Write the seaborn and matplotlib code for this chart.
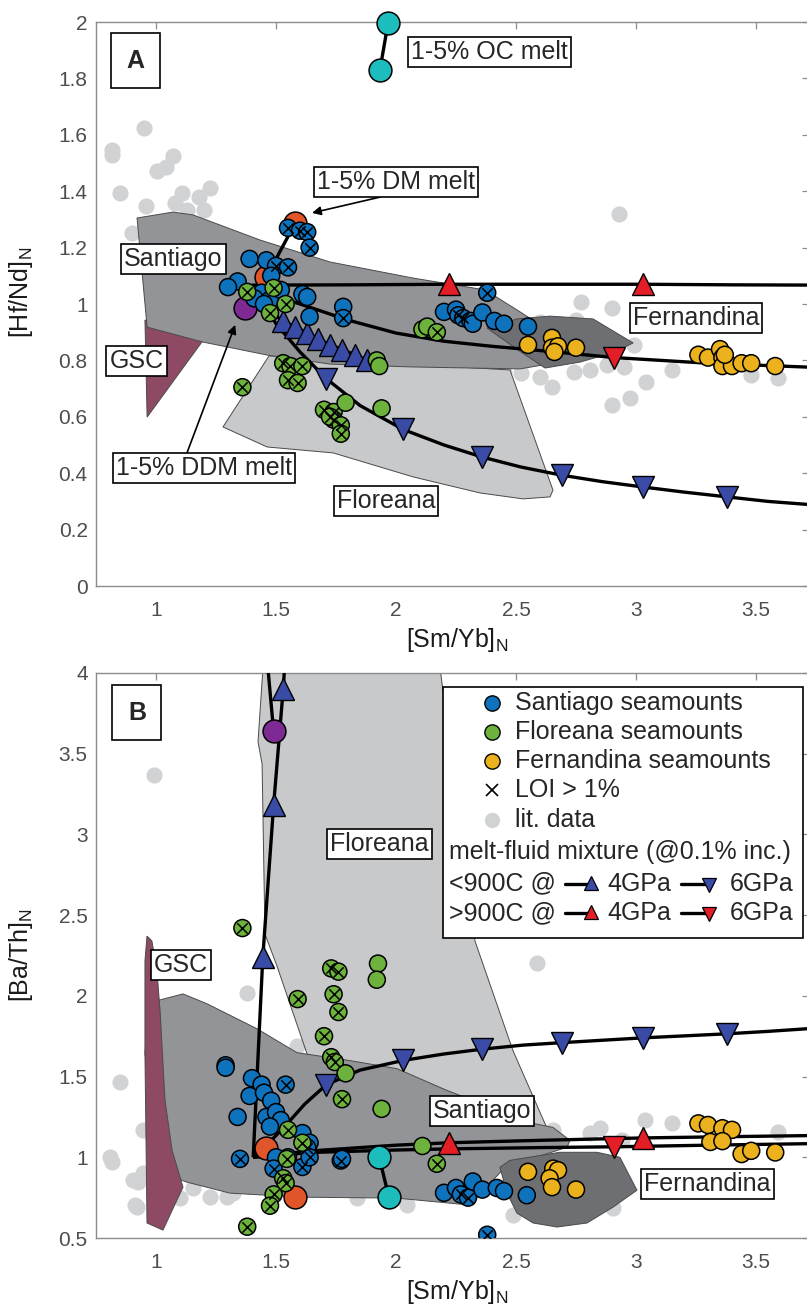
import numpy as np
import pandas as pd
import matplotlib
matplotlib.use("Agg")
import matplotlib.pyplot as plt
from matplotlib.patches import Polygon, Rectangle
from matplotlib.ticker import FuncFormatter, MultipleLocator
import seaborn as sns

sns.set_style("white")
plt.rcParams["font.family"] = ["Liberation Sans", "DejaVu Sans"]
plt.rcParams["mathtext.default"] = "regular"

# ---------------- colours ----------------
C_SANT = "#0f72bd"
C_FLOR = "#6cb23c"
C_FERN = "#ebb21e"
C_LIT = "#d1d2d4"
C_DM = "#e1552a"
C_OC = "#1dbdbd"
C_DDM = "#7e2a95"
C_BLUE = "#3a4ba6"
C_RED = "#e41e26"
C_POLY_SANT = "#939497"
C_POLY_FLOR = "#c8c9cb"
C_POLY_FERN = "#6e6f72"
C_POLY_GSC = "#8e4a65"

# ================= Panel A : [Hf/Nd]N vs [Sm/Yb]N =================
litA_x = [0.95, 0.817, 0.817, 1.07, 1.04, 1.004, 0.85, 0.96, 1.11, 1.08, 1.225, 1.18, 1.20, 1.13, 0.90,
          2.77, 2.90, 2.60, 2.75, 2.99, 2.52, 2.60, 2.74, 2.81, 2.88, 2.95, 2.65, 3.04, 3.15, 2.975,
          2.90, 3.48, 3.59, 2.93, 2.45, 2.35]
litA_y = [1.624, 1.546, 1.528, 1.525, 1.486, 1.472, 1.394, 1.348, 1.394, 1.358, 1.411, 1.379, 1.333, 1.333, 1.252,
          1.007, 0.986, 0.936, 0.943, 0.855, 0.755, 0.741, 0.759, 0.766, 0.784, 0.777, 0.706, 0.723, 0.766, 0.667,
          0.642, 0.748, 0.738, 1.32, 0.76, 0.77]

santA_x = [1.55, 1.60, 1.63, 1.64, 1.39, 1.46, 1.50, 1.55, 1.48, 1.34, 1.30, 1.44, 1.61, 1.63, 1.78, 1.78, 1.64,
           1.41, 1.475, 1.52, 1.45,
           2.20, 2.25, 2.26, 2.28, 2.31, 2.32, 2.36, 2.38, 2.41, 2.45, 2.55]
santA_y = [1.27, 1.26, 1.255, 1.20, 1.16, 1.155, 1.135, 1.13, 1.10, 1.08, 1.06, 1.04, 1.035, 1.025, 0.99, 0.95, 0.955,
           1.02, 1.015, 1.05, 1.00,
           0.972, 0.98, 0.96, 0.95, 0.94, 0.93, 0.97, 1.04, 0.94, 0.93, 0.92]
santA_loi = [1, 1, 1, 1, 0, 0, 1, 1, 0, 0, 0, 0, 0, 0, 0, 1, 0,
             0, 0, 0, 0,
             0, 0, 1, 1, 0, 0, 0, 1, 0, 0, 0]

florA_x = [1.38, 1.49, 1.54, 1.475, 1.53, 1.56, 1.61, 1.55, 1.59, 1.36, 1.70, 1.74, 1.79, 1.94, 1.74, 1.725,
           1.77, 1.77, 1.92, 1.93, 2.11, 2.13, 2.17]
florA_y = [1.043, 1.057, 1.00, 0.968, 0.79, 0.78, 0.78, 0.73, 0.72, 0.705, 0.625, 0.617, 0.65, 0.63, 0.59, 0.60,
           0.57, 0.54, 0.80, 0.78, 0.91, 0.92, 0.90]
florA_loi = [1, 1, 1, 1, 1, 1, 1, 1, 1, 1, 1, 1, 0, 0, 1, 1,
             1, 1, 0, 0, 0, 0, 1]

fernA_x = [2.55, 2.65, 2.65, 2.675, 2.66, 2.75, 3.26, 3.30, 3.35, 3.36, 3.36, 3.40, 3.44, 3.48, 3.58, 3.37]
fernA_y = [0.855, 0.88, 0.845, 0.85, 0.83, 0.845, 0.82, 0.81, 0.84, 0.81, 0.78, 0.78, 0.79, 0.79, 0.78, 0.82]

dmA_x, dmA_y = [1.46, 1.58], [1.096, 1.287]
ocA_x, ocA_y = [1.933, 1.967], [1.83, 1.997]
ddmA_x, ddmA_y = [1.37], [0.985]

# melt-fluid mixing curves (line) and 0.1% increment markers
red4A_x = [1.40, 1.80, 2.22, 2.60, 3.03, 3.40, 3.75]
red4A_y = [1.067, 1.068, 1.07, 1.07, 1.07, 1.068, 1.067]
red4A_mx, red4A_my = [2.22, 3.03], [1.07, 1.07]

red6A_x = [1.45, 1.60, 1.80, 2.00, 2.20, 2.40, 2.60, 2.91, 3.30, 3.75]
red6A_y = [1.04, 1.00, 0.943, 0.897, 0.868, 0.85, 0.835, 0.81, 0.79, 0.775]
red6A_mx, red6A_my = [2.91], [0.81]

blue4A_x = [1.45, 1.53, 1.58, 1.63, 1.675, 1.725, 1.775, 1.83, 1.88]
blue4A_y = [0.985, 0.94, 0.918, 0.897, 0.875, 0.856, 0.838, 0.82, 0.80]
blue4A_mx = [1.53, 1.58, 1.63, 1.675, 1.725, 1.775, 1.83, 1.88]
blue4A_my = [0.94, 0.918, 0.897, 0.875, 0.856, 0.838, 0.82, 0.80]

blue6A_x = [1.45, 1.50, 1.60, 1.71, 1.85, 2.03, 2.20, 2.36, 2.52, 2.69, 2.86, 3.03, 3.20, 3.38, 3.55, 3.75]
blue6A_y = [1.0, 0.93, 0.83, 0.735, 0.64, 0.555, 0.50, 0.457, 0.422, 0.393, 0.37, 0.351, 0.333, 0.316, 0.30, 0.287]
blue6A_mx = [1.71, 2.03, 2.36, 2.69, 3.03, 3.38]
blue6A_my = [0.735, 0.555, 0.457, 0.393, 0.351, 0.316]

# field outlines
polyA_sant = [(0.921, 1.305), (1.071, 1.326), (1.154, 1.316), (1.433, 1.227), (1.725, 1.149), (2.071, 1.092),
              (2.371, 1.050), (2.517, 0.972), (2.621, 0.915), (2.767, 0.830), (2.683, 0.794), (2.517, 0.770),
              (2.308, 0.773), (2.058, 0.777), (1.725, 0.787), (1.463, 0.819), (1.196, 0.865), (0.963, 0.918)]
polyA_fern = [(2.379, 0.915), (2.504, 0.947), (2.642, 0.957), (2.821, 0.947), (2.988, 0.862), (2.913, 0.830),
              (2.767, 0.794), (2.621, 0.773), (2.496, 0.844)]
polyA_flor = [(1.471, 0.816), (1.279, 0.564), (1.463, 0.493), (1.738, 0.472), (2.071, 0.387), (2.350, 0.330),
              (2.529, 0.309), (2.642, 0.316), (2.654, 0.340), (2.475, 0.766)]
polyA_gsc = [(0.954, 0.943), (1.2125, 0.890), (0.963, 0.599)]

# ================= Panel B : [Ba/Th]N vs [Sm/Yb]N =================
litB_x = [0.992, 2.5875, 1.379, 0.85, 0.946, 0.996, 0.808, 0.817, 0.9125, 0.946, 0.996, 0.925, 1.10, 1.154,
          1.225, 1.296, 1.321, 3.0375, 3.15, 2.85, 2.808, 2.942, 3.592, 2.654, 2.904, 2.4875, 1.5875, 2.046,
          1.8375, 0.904, 0.92]
litB_y = [3.37, 2.204, 2.019, 1.469, 1.167, 1.093, 1.0, 0.969, 0.704, 0.901, 0.901, 0.846, 0.747, 0.809,
          0.753, 0.753, 0.778, 1.228, 1.21, 1.179, 1.148, 1.105, 1.154, 1.167, 0.685, 0.642, 1.691, 0.704,
          0.747, 0.858, 0.69]

santB_x = [1.29, 1.29, 1.40, 1.44, 1.54, 1.39, 1.45, 1.48, 1.34, 1.46, 1.50, 1.52, 1.475, 1.61, 1.64, 1.63,
           1.50, 1.35, 1.49, 1.61, 1.64, 1.55, 1.77, 1.775,
           2.20, 2.25, 2.27, 2.30, 2.32, 2.36, 2.42, 2.45, 2.545, 2.38]
santB_y = [1.57, 1.555, 1.49, 1.45, 1.45, 1.38, 1.40, 1.35, 1.25, 1.25, 1.28, 1.23, 1.19, 1.15, 1.09, 1.06,
           1.00, 0.99, 0.93, 0.94, 1.00, 1.00, 0.98, 0.99,
           0.78, 0.81, 0.77, 0.75, 0.85, 0.80, 0.81, 0.79, 0.765, 0.52]
santB_loi = [0, 0, 0, 0, 1, 0, 0, 0, 0, 0, 0, 0, 0, 0, 0, 1,
             0, 1, 1, 1, 1, 0, 1, 0,
             0, 0, 1, 1, 0, 0, 0, 0, 0, 1]

florB_x = [1.925, 1.92, 1.73, 1.76, 1.74, 1.76, 1.70, 1.73, 1.745, 1.79, 1.775, 1.94, 2.11, 2.17, 1.59, 1.36,
           1.55, 1.61, 1.545, 1.53, 1.54, 1.49, 1.475, 1.38]
florB_y = [2.20, 2.10, 2.17, 2.15, 2.01, 1.90, 1.75, 1.62, 1.59, 1.52, 1.36, 1.30, 1.07, 0.96, 1.98, 2.42,
           1.17, 1.09, 0.99, 0.87, 0.84, 0.77, 0.70, 0.57]
florB_loi = [0, 0, 1, 1, 1, 1, 1, 1, 1, 0, 1, 0, 0, 1, 1, 1,
             1, 1, 1, 1, 1, 1, 1, 1]

fernB_x = [2.55, 2.655, 2.675, 2.64, 2.65, 2.75, 3.26, 3.30, 3.36, 3.40, 3.31, 3.36, 3.44, 3.48, 3.58]
fernB_y = [0.91, 0.93, 0.92, 0.87, 0.815, 0.80, 1.21, 1.20, 1.18, 1.17, 1.095, 1.10, 1.02, 1.04, 1.03]

dmB_x, dmB_y = [1.46, 1.58], [1.06, 0.755]
ocB_x, ocB_y = [1.93, 1.97], [1.0, 0.755]
ddmB_x, ddmB_y = [1.49, 1.45], [3.64, 4.30]

red4B_x = [1.405, 1.65, 2.00, 2.22, 2.60, 3.03, 3.40, 3.75]
red4B_y = [1.0, 1.04, 1.075, 1.09, 1.105, 1.12, 1.128, 1.135]
red4B_mx, red4B_my = [2.22, 3.03], [1.09, 1.12]

red6B_x = [1.405, 1.65, 2.00, 2.22, 2.60, 2.91, 3.30, 3.75]
red6B_y = [1.0, 1.03, 1.045, 1.052, 1.06, 1.065, 1.075, 1.085]
red6B_mx, red6B_my = [2.91], [1.065]

blue4B_x = [1.405, 1.445, 1.49, 1.53, 1.545]
blue4B_y = [1.0, 2.24, 3.18, 3.90, 4.25]
blue4B_mx, blue4B_my = [1.445, 1.49, 1.53], [2.24, 3.18, 3.90]

blue6B_x = [1.405, 1.45, 1.53, 1.62, 1.71, 1.85, 2.03, 2.20, 2.36, 2.53, 2.69, 2.86, 3.03, 3.20, 3.38, 3.55, 3.75]
blue6B_y = [1.0, 1.06, 1.18, 1.33, 1.45, 1.54, 1.60, 1.64, 1.67, 1.695, 1.71, 1.725, 1.74, 1.752, 1.765, 1.78, 1.80]
blue6B_mx = [1.71, 2.03, 2.36, 2.69, 3.03, 3.38]
blue6B_my = [1.45, 1.60, 1.67, 1.71, 1.74, 1.765]

polyB_sant = [(0.954, 1.642), (0.967, 1.951), (1.017, 1.975), (1.1125, 2.012), (1.2125, 1.951), (1.421, 1.796),
              (1.5875, 1.648), (1.808, 1.599), (2.004, 1.549), (2.2125, 1.414), (2.571, 1.210), (2.654, 1.185),
              (2.725, 1.105), (2.7125, 1.062), (2.454, 0.938), (2.308, 0.704), (2.004, 0.747), (1.60, 0.753),
              (1.308, 0.778), (1.129, 0.846), (1.017, 0.907)]
polyB_flor = [(1.446, 4.037), (1.425, 3.574), (1.442, 3.438), (1.454, 2.383), (1.504, 2.185), (1.629, 1.642),
              (1.725, 1.352), (2.60, 1.043), (2.633, 1.167), (2.4875, 1.660), (2.329, 2.340), (2.183, 4.037)]
polyB_fern = [(2.433, 0.938), (2.475, 0.981), (2.683, 1.031), (2.8375, 1.031), (2.933, 1.0), (3.004, 0.796),
              (2.904, 0.691), (2.796, 0.593), (2.671, 0.568), (2.571, 0.593), (2.504, 0.654), (2.4625, 0.778)]
polyB_gsc = [(0.9625, 2.370), (0.983, 2.340), (1.004, 2.154), (1.017, 1.907), (1.0375, 1.352), (1.067, 1.043),
             (1.1125, 0.815), (1.029, 0.549), (0.9625, 0.593), (0.954, 1.642), (0.954, 2.216)]

# ---------------- figure ----------------
fig = plt.figure(figsize=(8.07, 13.10), dpi=100)
axA = fig.add_axes([0.11896, 0.55267, 0.88352, 0.43053])
axB = fig.add_axes([0.11896, 0.05496, 0.88352, 0.43130])

FS = 18
SPINE = "#8c8c8c"


def style_axes(ax, ylim, ystep, ylabel):
    ax.set_xlim(0.75, 3.7208)
    ax.set_ylim(*ylim)
    ax.xaxis.set_major_locator(MultipleLocator(0.5))
    ax.yaxis.set_major_locator(MultipleLocator(ystep))
    fmt = FuncFormatter(lambda v, p: f"{v:g}")
    ax.xaxis.set_major_formatter(fmt)
    ax.yaxis.set_major_formatter(fmt)
    for sp in ax.spines.values():
        sp.set_color(SPINE)
        sp.set_linewidth(1.0)
        sp.set_visible(True)
    ax.tick_params(direction="in", top=True, right=True, length=5, width=0.9,
                   color=SPINE, labelcolor="#4d4d4d", labelsize=15)
    ax.tick_params(axis="x", pad=11)
    ax.tick_params(axis="y", pad=6)
    ax.set_xlabel("[Sm/Yb]$_N$", fontsize=FS, color="#1a1a1a")
    ax.set_ylabel(ylabel, fontsize=FS, color="#1a1a1a")
    ax.xaxis.set_label_coords(0.506, -0.071)
    ax.yaxis.set_label_coords(-0.086, 0.5)
    ax.grid(False)


def fields(ax, polys):
    for pts, fc, z in polys:
        ax.add_patch(Polygon(pts, closed=True, fc=fc, ec="#4a4a4a", lw=0.7, zorder=z))


def lit(ax, xs, ys):
    sns.scatterplot(x=xs, y=ys, ax=ax, color=C_LIT, s=135, linewidth=0, zorder=1, legend=False)


def curve(ax, xs, ys, mx, my, marker, color):
    ax.plot(xs, ys, color="k", lw=2.4, zorder=3, solid_capstyle="butt")
    ax.plot(mx, my, ls="none", marker=marker, ms=16, mfc=color, mec="k", mew=1.0, zorder=3.5)


def melt(ax, xs, ys, color, line=True):
    if line and len(xs) > 1:
        ax.plot(xs, ys, color="k", lw=2.4, zorder=3.8)
    sns.scatterplot(x=xs, y=ys, ax=ax, color=color, s=270, edgecolor="k", linewidth=1.1,
                    zorder=4, legend=False, clip_on=False)


def samples(ax, groups):
    frames = []
    for name, xs, ys, loi in groups:
        frames.append(pd.DataFrame({"x": xs, "y": ys, "group": name,
                                    "loi": loi if loi is not None else [0] * len(xs)}))
    df = pd.concat(frames, ignore_index=True)
    pal = {"Santiago": C_SANT, "Floreana": C_FLOR, "Fernandina": C_FERN}
    sns.scatterplot(data=df, x="x", y="y", hue="group", palette=pal, s=150, edgecolor="k",
                    linewidth=1.1, zorder=5, legend=False, ax=ax)
    sub = df[df["loi"] == 1]
    ax.scatter(sub["x"], sub["y"], marker="x", s=55, c="k", linewidths=1.1, zorder=6)


def boxed(ax, x, y, s, coords="data", pad=0.12, weight="normal"):
    tr = ax.transData if coords == "data" else ax.transAxes
    ax.text(x, y, s, ha="center", va="center", fontsize=FS, fontweight=weight, transform=tr,
            bbox=dict(boxstyle=f"square,pad={pad}", fc="white", ec="k", lw=1.2), zorder=8)


# ---------------- panel A ----------------
lit(axA, litA_x, litA_y)
fields(axA, [(polyA_gsc, C_POLY_GSC, 1.5), (polyA_flor, C_POLY_FLOR, 1.6),
             (polyA_sant, C_POLY_SANT, 1.7), (polyA_fern, C_POLY_FERN, 1.8)])
curve(axA, red4A_x, red4A_y, red4A_mx, red4A_my, "^", C_RED)
curve(axA, red6A_x, red6A_y, red6A_mx, red6A_my, "v", C_RED)
curve(axA, blue6A_x, blue6A_y, blue6A_mx, blue6A_my, "v", C_BLUE)
curve(axA, blue4A_x, blue4A_y, blue4A_mx, blue4A_my, "^", C_BLUE)
melt(axA, dmA_x, dmA_y, C_DM)
melt(axA, ocA_x, ocA_y, C_OC)
melt(axA, ddmA_x, ddmA_y, C_DDM)
samples(axA, [("Santiago", santA_x, santA_y, santA_loi),
              ("Floreana", florA_x, florA_y, florA_loi),
              ("Fernandina", fernA_x, fernA_y, None)])
style_axes(axA, (0, 2), 0.2, "[Hf/Nd]$_N$")
axA.yaxis.set_label_coords(-0.086, 0.52)

boxed(axA, 0.0554, 0.931, "A", coords="axes", pad=0.62, weight="bold")
boxed(axA, 2.39, 1.894, "1-5% OC melt")
boxed(axA, 1.998, 1.431, "1-5% DM melt")
boxed(axA, 1.073, 1.160, "Santiago")
boxed(axA, 0.919, 0.798, "GSC")
boxed(axA, 1.202, 0.420, "1-5% DDM melt")
boxed(axA, 1.958, 0.303, "Floreana")
boxed(axA, 3.25, 0.952, "Fernandina")
arrow = dict(arrowstyle="-|>", color="k", lw=1.2, mutation_scale=13, shrinkA=0, shrinkB=0)
axA.annotate("", xy=(1.65, 1.323), xytext=(1.933, 1.379), arrowprops=arrow, zorder=7)
axA.annotate("", xy=(1.33, 0.926), xytext=(1.129, 0.472), arrowprops=arrow, zorder=7)

# ---------------- panel B ----------------
lit(axB, litB_x, litB_y)
fields(axB, [(polyB_flor, C_POLY_FLOR, 1.5), (polyB_sant, C_POLY_SANT, 1.6),
             (polyB_gsc, C_POLY_GSC, 1.7), (polyB_fern, C_POLY_FERN, 1.8)])
curve(axB, red4B_x, red4B_y, red4B_mx, red4B_my, "^", C_RED)
curve(axB, red6B_x, red6B_y, red6B_mx, red6B_my, "v", C_RED)
curve(axB, blue6B_x, blue6B_y, blue6B_mx, blue6B_my, "v", C_BLUE)
curve(axB, blue4B_x, blue4B_y, blue4B_mx, blue4B_my, "^", C_BLUE)
melt(axB, dmB_x, dmB_y, C_DM, line=False)
melt(axB, ocB_x, ocB_y, C_OC)
axB.plot(ddmB_x, ddmB_y, color="k", lw=2.4, zorder=3.8)
sns.scatterplot(x=ddmB_x[:1], y=ddmB_y[:1], ax=axB, color=C_DDM, s=270, edgecolor="k",
                linewidth=1.1, zorder=4, legend=False)
samples(axB, [("Santiago", santB_x, santB_y, santB_loi),
              ("Floreana", florB_x, florB_y, florB_loi),
              ("Fernandina", fernB_x, fernB_y, None)])
style_axes(axB, (0.5, 4), 0.5, "[Ba/Th]$_N$")

boxed(axB, 0.0575, 0.930, "B", coords="axes", pad=0.62, weight="bold")
boxed(axB, 1.931, 2.941, "Floreana")
boxed(axB, 1.104, 2.194, "GSC")
boxed(axB, 2.358, 1.284, "Santiago")
boxed(axB, 3.298, 0.833, "Fernandina")

# ---------------- legend (panel B) ----------------
T = axB.transAxes
axB.add_patch(Rectangle((0.486, 0.531), 0.506, 0.444, transform=T, fc="white", ec="k",
                        lw=1.2, zorder=9))
leg_rows = [0.947, 0.896, 0.844, 0.793, 0.740, 0.683, 0.627, 0.575]
leg_items = [("Santiago seamounts", C_SANT), ("Floreana seamounts", C_FLOR),
             ("Fernandina seamounts", C_FERN)]
MX, TX = 0.556, 0.588
for (lab, col), ry in zip(leg_items, leg_rows[:3]):
    axB.plot([MX], [ry], transform=T, ls="none", marker="o", ms=11, mfc=col, mec="k", mew=1.0,
             zorder=10, clip_on=False)
    axB.text(TX, ry, lab, transform=T, fontsize=FS, va="center", ha="left", zorder=10)
axB.plot([MX], [leg_rows[3]], transform=T, ls="none", marker="x", ms=9, mec="k", mew=1.2, zorder=10)
axB.text(TX, leg_rows[3], "LOI > 1%", transform=T, fontsize=FS, va="center", ha="left", zorder=10)
axB.plot([MX], [leg_rows[4]], transform=T, ls="none", marker="o", ms=11, mfc=C_LIT, mec="none",
         zorder=10)
axB.text(TX, leg_rows[4], "lit. data", transform=T, fontsize=FS, va="center", ha="left", zorder=10)
axB.text(0.495, leg_rows[5], "melt-fluid mixture (@0.1% inc.)", transform=T, fontsize=FS,
         va="center", ha="left", zorder=10)
for ry, lab, col in [(leg_rows[6], "<900C @", C_BLUE), (leg_rows[7], ">900C @", C_RED)]:
    axB.text(0.495, ry, lab, transform=T, fontsize=FS, va="center", ha="left", zorder=10)
    axB.plot([0.658, 0.694], [ry, ry], transform=T, color="k", lw=2.4, zorder=10)
    axB.plot([0.694], [ry + 0.002], transform=T, ls="none", marker="^", ms=10.5, mfc=col, mec="k",
             mew=0.9, zorder=10.5)
    axB.text(0.717, ry, "4GPa", transform=T, fontsize=FS, va="center", ha="left", zorder=10)
    axB.plot([0.820, 0.860], [ry, ry], transform=T, color="k", lw=2.4, zorder=10)
    axB.plot([0.860], [ry - 0.002], transform=T, ls="none", marker="v", ms=10.5, mfc=col, mec="k",
             mew=0.9, zorder=10.5)
    axB.text(0.889, ry, "6GPa", transform=T, fontsize=FS, va="center", ha="left", zorder=10)

fig.savefig("out.png", dpi=100)
